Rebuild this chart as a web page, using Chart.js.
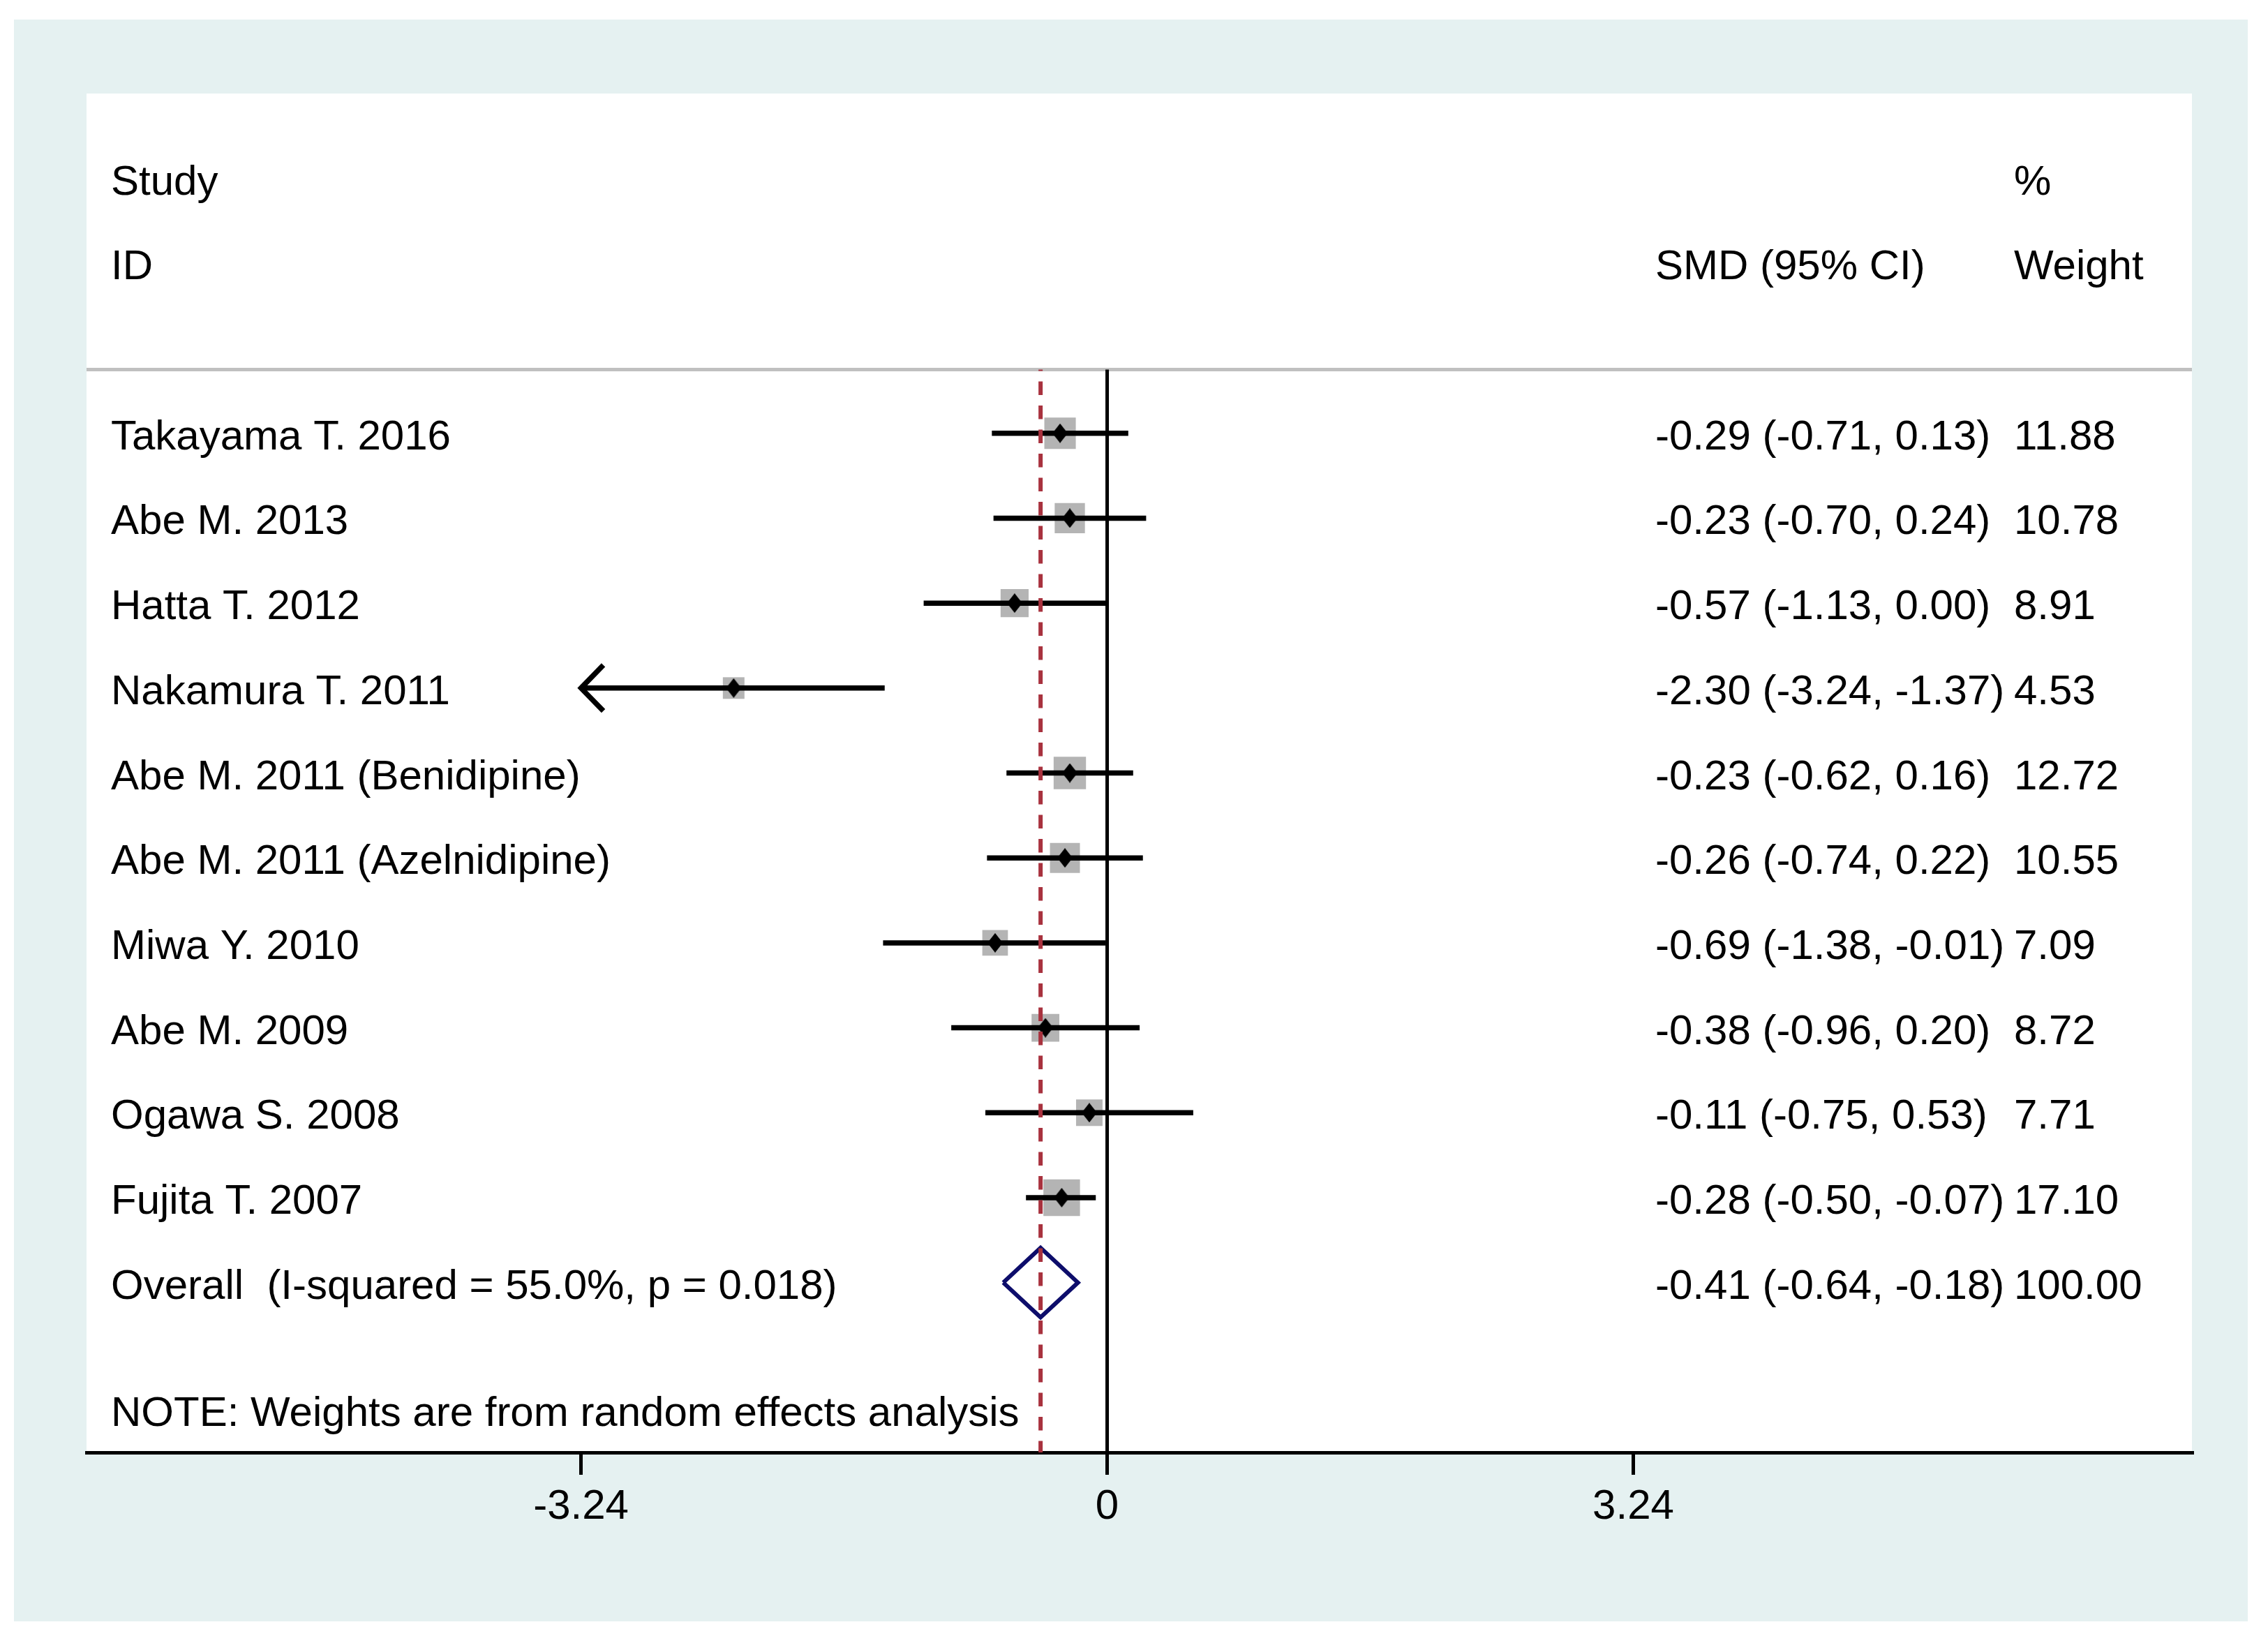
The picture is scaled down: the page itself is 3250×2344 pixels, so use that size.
<!DOCTYPE html>
<html>
<head>
<meta charset="utf-8">
<script src="https://cdn.jsdelivr.net/npm/chart.js@4.4.1/dist/chart.umd.min.js"></script>
<style>
  html, body { margin: 0; padding: 0; background: #fff; }
  canvas { display: block; }
</style>
</head>
<body>
<canvas id="forest" width="3250" height="2344"></canvas>
<script>
// study rows, top to bottom
const studies = ['Takayama T. 2016', 'Abe M. 2013', 'Hatta T. 2012', 'Nakamura T. 2011',
  'Abe M. 2011 (Benidipine)', 'Abe M. 2011 (Azelnidipine)', 'Miwa Y. 2010',
  'Abe M. 2009', 'Ogawa S. 2008', 'Fujita T. 2007'];
const smd     = [-0.29, -0.23, -0.57, -2.30, -0.23, -0.26, -0.69, -0.38, -0.11, -0.28];
const ciLow   = [-0.71, -0.70, -1.13, -3.24, -0.62, -0.74, -1.38, -0.96, -0.75, -0.50];
const ciHigh  = [0.13, 0.24, 0.00, -1.37, 0.16, 0.22, -0.01, 0.20, 0.53, -0.07];
const weights = [11.88, 10.78, 8.91, 4.53, 12.72, 10.55, 7.09, 8.72, 7.71, 17.10];

const overallLabel = 'Overall  (I-squared = 55.0%, p = 0.018)';
const overallSmd = -0.41;
const overallLow = -0.64;
const overallHigh = -0.18;
const overallWeight = 100.00;

const noteText = 'NOTE: Weights are from random effects analysis';
const tickValues = [-3.24, 0, 3.24];
const clipLow = -3.24;

// view ranges (x in SMD units, y in row units)
const xMin = -6.285, xMax = 6.68;
const yMin = -4, yMax = 12;
const sepRow = -0.75;
const overallRow = studies.length;

const fmt = v => v.toFixed(2);

function diamondMarker(w, h) {
  const c = document.createElement('canvas');
  c.width = w; c.height = h;
  const g = c.getContext('2d');
  g.fillStyle = '#000';
  g.beginPath();
  g.moveTo(w / 2, 0); g.lineTo(w, h / 2); g.lineTo(w / 2, h); g.lineTo(0, h / 2);
  g.closePath();
  g.fill();
  return c;
}

function lineSet(data, color, width, order, extra) {
  return Object.assign({
    data, showLine: true, borderColor: color, borderWidth: width,
    pointRadius: 0, tension: 0, fill: false, order,
    borderCapStyle: 'butt', borderJoinStyle: 'miter'
  }, extra || {});
}

// CI segments, broken by null points
const ciData = [];
studies.forEach((s, i) => {
  ciData.push({ x: ciLow[i], y: i }, { x: ciHigh[i], y: i }, { x: null, y: null });
});

// arrow heads where the interval runs past the shown range
const arrowData = [];
studies.forEach((s, i) => {
  if (ciLow[i] <= clipLow) {
    arrowData.push({ x: clipLow + 0.1375, y: i - 0.27 }, { x: clipLow, y: i },
      { x: clipLow + 0.1375, y: i + 0.27 }, { x: null, y: null });
  }
});

const pointData = studies.map((s, i) => ({ x: smd[i], y: i }));
// square side grows with the weight
const squareRadius = weights.map(w => (10.7 * Math.sqrt(w) + 8.2) / Math.SQRT2);

const dh = 0.41;
const overallDiamond = [
  { x: overallLow, y: overallRow }, { x: overallSmd, y: overallRow - dh },
  { x: overallHigh, y: overallRow }, { x: overallSmd, y: overallRow + dh },
  { x: overallLow, y: overallRow }
];

const backgroundPlugin = {
  id: 'stataBackground',
  beforeDraw(chart) {
    const { ctx, chartArea, width, height } = chart;
    ctx.save();
    ctx.fillStyle = '#ffffff';
    ctx.fillRect(0, 0, width, height);
    ctx.fillStyle = '#e5f1f1';
    ctx.fillRect(20, 28, width - 49, height - 49);
    ctx.fillStyle = '#ffffff';
    ctx.fillRect(chartArea.left, chartArea.top, chartArea.right - chartArea.left, chartArea.bottom - chartArea.top);
    ctx.restore();
  }
};

const textPlugin = {
  id: 'forestText',
  afterDatasetsDraw(chart) {
    const { ctx, chartArea, scales } = chart;
    const y = scales.y;
    ctx.save();
    ctx.fillStyle = '#000';
    ctx.font = '60px "Liberation Sans", Arial, Helvetica, sans-serif';
    ctx.textAlign = 'left';
    ctx.textBaseline = 'alphabetic';
    const lift = 23;
    const colLabel = chartArea.left + 35;
    const colSmd = chartArea.left + 2248;
    const colWeight = chartArea.left + 2762;
    const put = (t, x, row) => ctx.fillText(t, x, y.getPixelForValue(row) + lift);

    put('Study', colLabel, -3);
    put('%', colWeight, -3);
    put('ID', colLabel, -2);
    put('SMD (95% CI)', colSmd, -2);
    put('Weight', colWeight, -2);

    studies.forEach((s, i) => {
      put(s, colLabel, i);
      put(fmt(smd[i]) + ' (' + fmt(ciLow[i]) + ', ' + fmt(ciHigh[i]) + ')', colSmd, i);
      put(fmt(weights[i]), colWeight, i);
    });
    put(overallLabel, colLabel, overallRow);
    put(fmt(overallSmd) + ' (' + fmt(overallLow) + ', ' + fmt(overallHigh) + ')', colSmd, overallRow);
    put(fmt(overallWeight), colWeight, overallRow);
    put(noteText, colLabel, 11.5);
    ctx.restore();
  }
};

new Chart(document.getElementById('forest').getContext('2d'), {
  type: 'scatter',
  data: {
    datasets: [
      lineSet([{ x: overallSmd, y: sepRow }, { x: overallSmd, y: yMax }], '#a8323e', 6, 0,
        { borderDash: [19.5, 15], borderDashOffset: 17.5 }),
      {
        data: pointData, pointStyle: diamondMarker(22, 28), pointRadius: 11,
        order: 1
      },
      lineSet(ciData, '#000', 7.5, 2),
      lineSet(arrowData, '#000', 7.5, 2),
      lineSet(overallDiamond, '#0d0d6b', 6, 3),
      {
        data: pointData, pointStyle: 'rect', pointRadius: squareRadius,
        backgroundColor: '#b4b4b4', borderWidth: 0, pointBorderWidth: 0, order: 4
      },
      lineSet([{ x: 0, y: sepRow }, { x: 0, y: yMax }], '#000', 5, 5),
      lineSet([{ x: xMin, y: sepRow }, { x: xMax, y: sepRow }], '#c0c0c0', 5, 6)
    ]
  },
  options: {
    responsive: false,
    animation: false,
    devicePixelRatio: 1,
    events: [],
    layout: { padding: { left: 124, right: 109, top: 134, bottom: 0 } },
    plugins: {
      legend: { display: false },
      tooltip: { enabled: false }
    },
    scales: {
      x: {
        type: 'linear',
        min: xMin,
        max: xMax,
        afterBuildTicks: scale => { scale.ticks = tickValues.map(v => ({ value: v })); },
        afterFit: scale => { scale.height = 263; },
        grid: { display: true, drawOnChartArea: false, drawTicks: true, tickLength: 32, color: '#000', lineWidth: 5 },
        border: { display: true, color: '#000', width: 5 },
        ticks: {
          color: '#000',
          padding: 10,
          maxRotation: 0,
          autoSkip: false,
          font: { family: '"Liberation Sans", Arial, Helvetica, sans-serif', size: 60 },
          callback: v => (v === 0 ? '0' : fmt(v))
        }
      },
      y: {
        type: 'linear',
        display: false,
        reverse: true,
        min: yMin,
        max: yMax
      }
    }
  },
  plugins: [backgroundPlugin, textPlugin]
});
</script>
</body>
</html>
